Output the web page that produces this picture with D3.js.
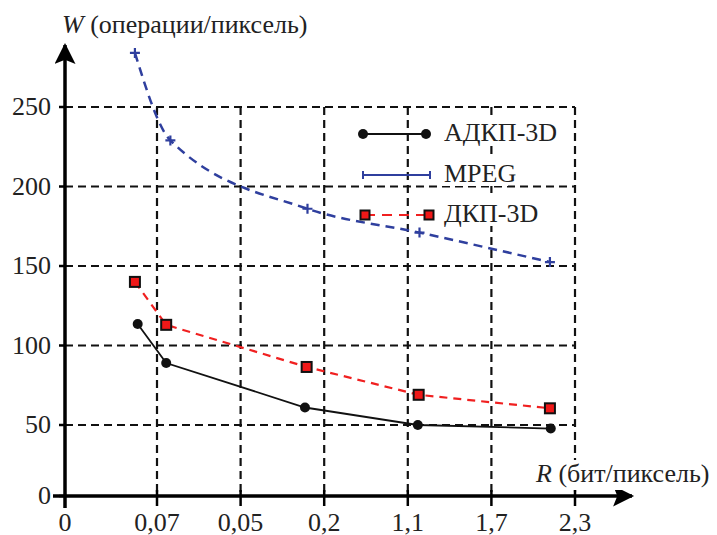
<!DOCTYPE html>
<html><head><meta charset="utf-8"></head><body style="margin:0">
<script src="https://d3js.org/d3.v7.min.js"></script>
<script>
    // tick labels (x axis is positional, labels as printed)
    var xTickLabels = ["0", "0,07", "0,05", "0,2", "1,1", "1,7", "2,3"]
    var yTicks = [0, 50, 100, 150, 200, 250]

    // series: x in tick-index units, y in operations/pixel
    var adkpX = [0.79, 1.11, 2.77, 4.12, 5.71]
    var adkpY = [113.5, 89, 61, 50, 47.5]

    var mpegX = [0.76, 1.16, 2.8, 4.14, 5.7]
    var mpegY = [284, 229, 186, 171, 152.5]

    var dkpX = [0.76, 1.11, 2.79, 4.13, 5.7]
    var dkpY = [140, 113, 86.5, 69, 60.5]

    var legendNames = ["АДКП-3D", "MPEG", "ДКП-3D"]

    var width = 717,
        height = 535

    var svg = d3.select("body").append("svg")
        .attr("width", width)
        .attr("height", height)
        .style("display", "block")

    // the printed axes are not quite even, so use piecewise scales
    var x = d3.scaleLinear().domain([0, 1, 6]).range([65, 157, 575])
    var y = d3.scaleLinear().domain([0, 50, 250]).range([496, 425, 107])

    var grid = svg.append("g")
      .attr("stroke", "#111")
      .attr("stroke-width", 2.2)
      .attr("stroke-dasharray", "8,5")

    // horizontal grid
    grid.selectAll("line.h")
      .data(yTicks.filter(function(d){ return d > 0 }))
      .enter().append("line")
        .attr("x1", x(0)).attr("x2", x(6))
        .attr("y1", function(d){ return y(d) })
        .attr("y2", function(d){ return y(d) })

    // vertical grid
    grid.selectAll("line.v")
      .data(d3.range(1, 7))
      .enter().append("line")
        .attr("x1", function(d){ return x(d) })
        .attr("x2", function(d){ return x(d) })
        .attr("y1", y(250)).attr("y2", y(0))

    // series
    function series(xs, ys) {
      return xs.map(function(d, i){ return [d, ys[i]] })
    }
    var line = d3.line()
      .x(function(d){ return x(d[0]) })
      .y(function(d){ return y(d[1]) })

    var mpeg = series(mpegX, mpegY)
    var dkp = series(dkpX, dkpY)
    var adkp = series(adkpX, adkpY)

    svg.append("path")
      .attr("d", line.curve(d3.curveMonotoneX)(mpeg))
      .attr("fill", "none")
      .attr("stroke", "#2f3f9e")
      .attr("stroke-width", 2.5)
      .attr("stroke-dasharray", "9,6")

    svg.append("path")
      .attr("d", line.curve(d3.curveLinear)(dkp))
      .attr("fill", "none")
      .attr("stroke", "#f02020")
      .attr("stroke-width", 2.2)
      .attr("stroke-dasharray", "8,6")

    svg.append("path")
      .attr("d", line.curve(d3.curveLinear)(adkp))
      .attr("fill", "none")
      .attr("stroke", "#111")
      .attr("stroke-width", 1.8)

    // markers
    svg.selectAll("path.plus")
      .data(mpeg)
      .enter().append("path")
        .attr("d", function(d){
          var cx = x(d[0]), cy = y(d[1])
          return "M" + (cx - 5) + "," + cy + "H" + (cx + 5) + "M" + cx + "," + (cy - 5) + "V" + (cy + 5)
        })
        .attr("stroke", "#2f3f9e")
        .attr("stroke-width", 2.2)

    svg.selectAll("rect.sq")
      .data(dkp)
      .enter().append("rect")
        .attr("x", function(d){ return x(d[0]) - 5 })
        .attr("y", function(d){ return y(d[1]) - 5 })
        .attr("width", 10).attr("height", 10)
        .attr("fill", "#f01818")
        .attr("stroke", "#111")
        .attr("stroke-width", 2)

    svg.selectAll("circle.dot")
      .data(adkp)
      .enter().append("circle")
        .attr("cx", function(d){ return x(d[0]) })
        .attr("cy", function(d){ return y(d[1]) })
        .attr("r", 5)
        .attr("fill", "#111")

    // axes
    svg.append("defs").append("marker")
      .attr("id", "arrow")
      .attr("viewBox", "0 0 10 10")
      .attr("refX", 9).attr("refY", 5)
      .attr("markerWidth", 7).attr("markerHeight", 6)
      .attr("markerUnits", "strokeWidth")
      .attr("orient", "auto")
      .append("path")
        .attr("d", "M0,0L10,5L0,10L2,5Z")
        .attr("fill", "#000")

    svg.append("line")
      .attr("x1", 53).attr("x2", 632)
      .attr("y1", y(0)).attr("y2", y(0))
      .attr("stroke", "#000").attr("stroke-width", 3.5)
      .attr("marker-end", "url(#arrow)")

    svg.append("line")
      .attr("x1", x(0)).attr("x2", x(0))
      .attr("y1", 508).attr("y2", 45)
      .attr("stroke", "#000").attr("stroke-width", 3.5)
      .attr("marker-end", "url(#arrow)")

    // tick marks
    svg.selectAll("line.yt")
      .data(yTicks)
      .enter().append("line")
        .attr("x1", x(0) - 6).attr("x2", x(0))
        .attr("y1", function(d){ return y(d) })
        .attr("y2", function(d){ return y(d) })
        .attr("stroke", "#000").attr("stroke-width", 2.5)

    svg.selectAll("line.xt")
      .data(d3.range(1, 7))
      .enter().append("line")
        .attr("x1", function(d){ return x(d) })
        .attr("x2", function(d){ return x(d) })
        .attr("y1", y(0) - 6).attr("y2", y(0) + 10)
        .attr("stroke", "#000").attr("stroke-width", 2.5)

    // tick labels
    svg.selectAll("text.yl")
      .data(yTicks)
      .enter().append("text")
        .attr("x", 51)
        .attr("y", function(d){ return y(d) + 8 })
        .attr("text-anchor", "end")
        .attr("font-family", "Liberation Serif")
        .attr("font-size", 26)
        .attr("fill", "#222")
        .text(function(d){ return d })

    svg.selectAll("text.xl")
      .data(xTickLabels)
      .enter().append("text")
        .attr("x", function(d, i){ return x(i) })
        .attr("y", 531)
        .attr("text-anchor", "middle")
        .attr("font-family", "Liberation Serif")
        .attr("font-size", 26)
        .attr("fill", "#222")
        .text(function(d){ return d })

    // axis titles
    var wt = svg.append("text")
      .attr("x", 62).attr("y", 33)
      .attr("font-family", "Liberation Serif")
      .attr("font-size", 26)
      .attr("fill", "#222")
    wt.append("tspan").attr("font-style", "italic").text("W")
    wt.append("tspan").text(" (операции/пиксель)")

    svg.append("rect")
      .attr("x", 532).attr("y", 460).attr("width", 185).attr("height", 30)
      .attr("fill", "#fff")
    var rt = svg.append("text")
      .attr("x", 536).attr("y", 482)
      .attr("font-family", "Liberation Serif")
      .attr("font-size", 26)
      .attr("fill", "#222")
    rt.append("tspan").attr("font-style", "italic").text("R")
    rt.append("tspan").text(" (бит/пиксель)")

    // legend
    var legendY = [134, 175, 215]
    var legend = svg.append("g")

    legendNames.forEach(function(name, i) {
      var ly = legendY[i]
      legend.append("rect")
        .attr("x", 440).attr("y", ly - 17)
        .attr("width", name.length * 17).attr("height", 28)
        .attr("fill", "#fff")
      legend.append("text")
        .attr("x", 444).attr("y", ly + 7)
        .attr("font-family", "Liberation Serif")
        .attr("font-size", 26)
        .attr("fill", "#222")
        .text(name)
    })

    legend.append("line")
      .attr("x1", 363).attr("x2", 426).attr("y1", 134).attr("y2", 134)
      .attr("stroke", "#111").attr("stroke-width", 1.8)
    legend.selectAll("circle").data([363, 426]).enter().append("circle")
      .attr("cx", function(d){ return d }).attr("cy", 134).attr("r", 5).attr("fill", "#111")

    legend.append("line")
      .attr("x1", 363).attr("x2", 430).attr("y1", 175).attr("y2", 175)
      .attr("stroke", "#2f3f9e").attr("stroke-width", 2)
    legend.selectAll("line.tk").data([363, 430]).enter().append("line")
      .attr("x1", function(d){ return d }).attr("x2", function(d){ return d })
      .attr("y1", 171).attr("y2", 179)
      .attr("stroke", "#2f3f9e").attr("stroke-width", 2)

    legend.append("line")
      .attr("x1", 365).attr("x2", 429).attr("y1", 215).attr("y2", 215)
      .attr("stroke", "#f02020").attr("stroke-width", 2.2).attr("stroke-dasharray", "10,7")
    legend.selectAll("rect.lsq").data([365, 429]).enter().append("rect")
      .attr("x", function(d){ return d - 4.5 }).attr("y", 210.5)
      .attr("width", 9).attr("height", 9)
      .attr("fill", "#f01818").attr("stroke", "#111").attr("stroke-width", 2)
</script>
</body></html>
